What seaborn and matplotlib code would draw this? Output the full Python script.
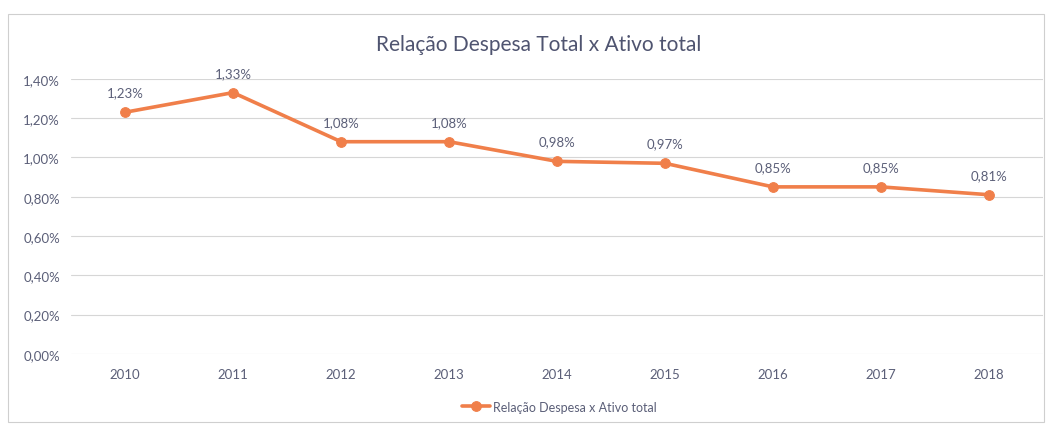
import matplotlib
matplotlib.use("Agg")
import matplotlib.pyplot as plt
import seaborn as sns
import pandas as pd
from matplotlib.patches import Rectangle

anos = ["2010", "2011", "2012", "2013", "2014", "2015", "2016", "2017", "2018"]
valores = [1.23, 1.33, 1.08, 1.08, 0.98, 0.97, 0.85, 0.85, 0.81]
rotulos = ["1,23%", "1,33%", "1,08%", "1,08%", "0,98%", "0,97%", "0,85%", "0,85%", "0,81%"]
yticks = [0.0, 0.2, 0.4, 0.6, 0.8, 1.0, 1.2, 1.4]
ytick_labels = ["0,00%", "0,20%", "0,40%", "0,60%", "0,80%", "1,00%", "1,20%", "1,40%"]
serie = "Relação Despesa x Ativo total"
titulo = "Relação Despesa Total x Ativo total"

sns.set_theme(style="white")
plt.rcParams['font.family'] = ['Lato', 'DejaVu Sans']

df = pd.DataFrame({"ano": anos, "valor": valores})
df["x"] = range(len(anos))

cor = "#F07F4A"
texto = "#5B5F78"

fig = plt.figure(figsize=(10.46, 4.27), dpi=100)
fig.patch.set_facecolor("white")
fig.add_artist(Rectangle((0.008, 0.01), 0.99, 0.955, transform=fig.transFigure,
                         fill=False, edgecolor="#cfcfcf", linewidth=0.8))
ax = fig.add_axes([0.068, 0.169, 0.929, 0.644])

sns.lineplot(data=df, x="x", y="valor", ax=ax, color=cor, linewidth=2.6,
             marker="o", markersize=7, markeredgecolor=cor, label=serie)

for xi, v, r in zip(df["x"], valores, rotulos):
    ax.annotate(r, (xi, v), xytext=(0, 10), textcoords="offset points",
                ha="center", va="bottom", fontsize=9.5, color=texto)

ax.set_xlim(-0.5, len(anos) - 0.5)
ax.set_ylim(0, 1.4)
ax.set_xticks(df["x"])
ax.set_xticklabels(anos)
ax.set_yticks(yticks)
ax.set_yticklabels(ytick_labels)
ax.tick_params(axis="both", labelsize=9.5, colors=texto, length=0)
ax.tick_params(axis="x", pad=10)
ax.tick_params(axis="y", pad=8)
ax.set_xlabel("")
ax.set_ylabel("")
ax.yaxis.grid(True, color="#d6d6d6", linewidth=0.8)
ax.xaxis.grid(False)
for s in ax.spines.values():
    s.set_visible(False)
ax.set_clip_on(False)
for l in ax.lines:
    l.set_clip_on(False)

ax.legend_.remove()
handles, labels = ax.get_legend_handles_labels()
fig.legend(handles, labels, loc="center", bbox_to_anchor=(0.535, 0.045),
           frameon=False, fontsize=9, labelcolor=texto, handlelength=2.2,
           handletextpad=0.3)

fig.text(0.515, 0.895, titulo, ha="center", va="center", fontsize=15, color="#4F5470")

fig.savefig("out.png", dpi=100, facecolor="white")
